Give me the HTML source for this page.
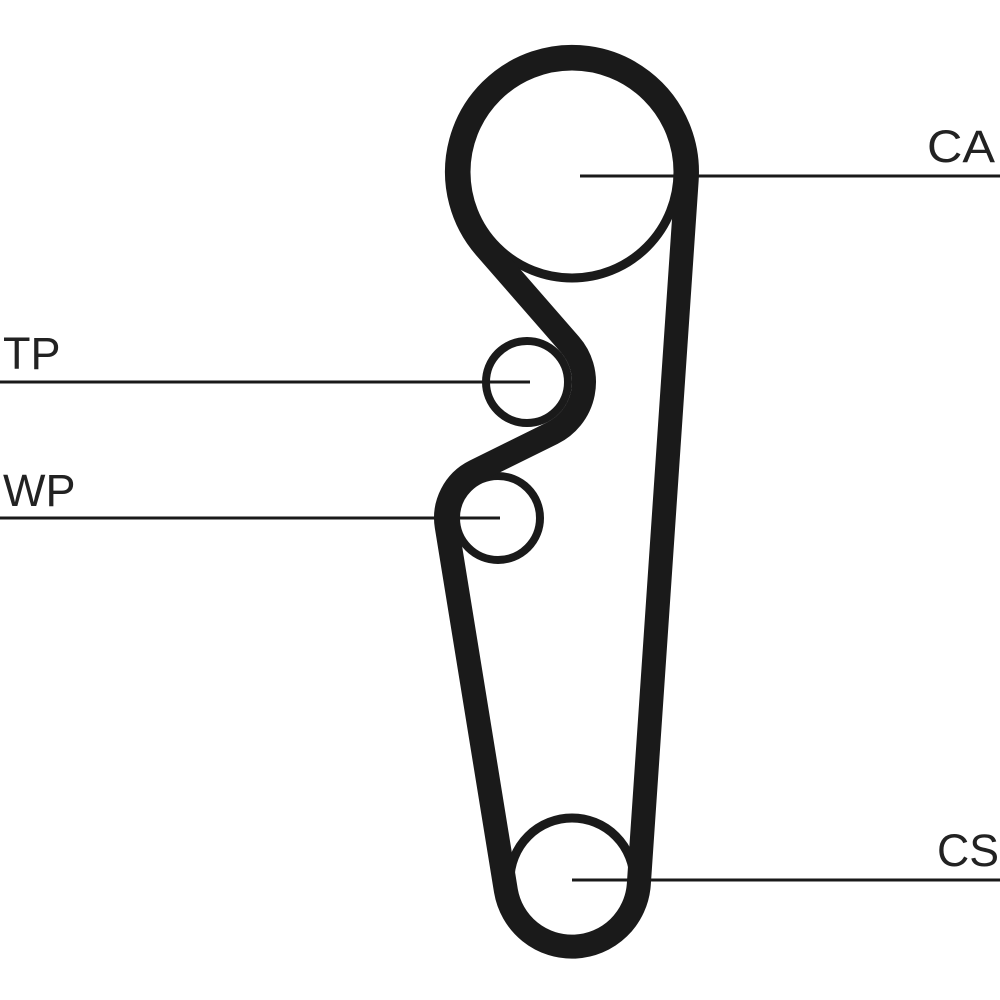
<!DOCTYPE html>
<html><head><meta charset="utf-8"><style>html,body{margin:0;padding:0;background:#fff}svg{display:block}</style></head>
<body>
<svg width="1000" height="1000" viewBox="0 0 1000 1000" xmlns="http://www.w3.org/2000/svg">
<g fill="none" stroke="#1a1a1a">
<circle cx="572" cy="172" r="106" stroke-width="9"/>
<circle cx="527" cy="382" r="41" stroke-width="8"/>
<circle cx="498" cy="518" r="42" stroke-width="8"/>
<circle cx="572" cy="880" r="62" stroke-width="9"/>
<path d="M686.7,179.8 L638.8,884.6 A67,67 0 0 1 505.9,890.7 L446.7,526.3 A52,52 0 0 1 474.9,471.4 L552.3,433.1 A57,57 0 0 0 569.9,344.5 L485.4,247.6 A115,115 0 1 1 686.7,179.8 Z" stroke-width="24" stroke-linejoin="round"/>
<g stroke-width="3">
<line x1="580" y1="176" x2="1000" y2="176"/>
<line x1="0" y1="382" x2="530" y2="382"/>
<line x1="0" y1="518" x2="500" y2="518"/>
<line x1="572" y1="880" x2="1000" y2="880"/>
</g>
</g>
<g font-family="Liberation Sans, sans-serif" font-size="45" fill="#222">
<text x="927" y="162" textLength="68" lengthAdjust="spacingAndGlyphs">CA</text>
<text x="3" y="369">TP</text>
<text x="3" y="506">WP</text>
<text x="937" y="866" textLength="62" lengthAdjust="spacingAndGlyphs">CS</text>
</g>
</svg>
</body></html>
